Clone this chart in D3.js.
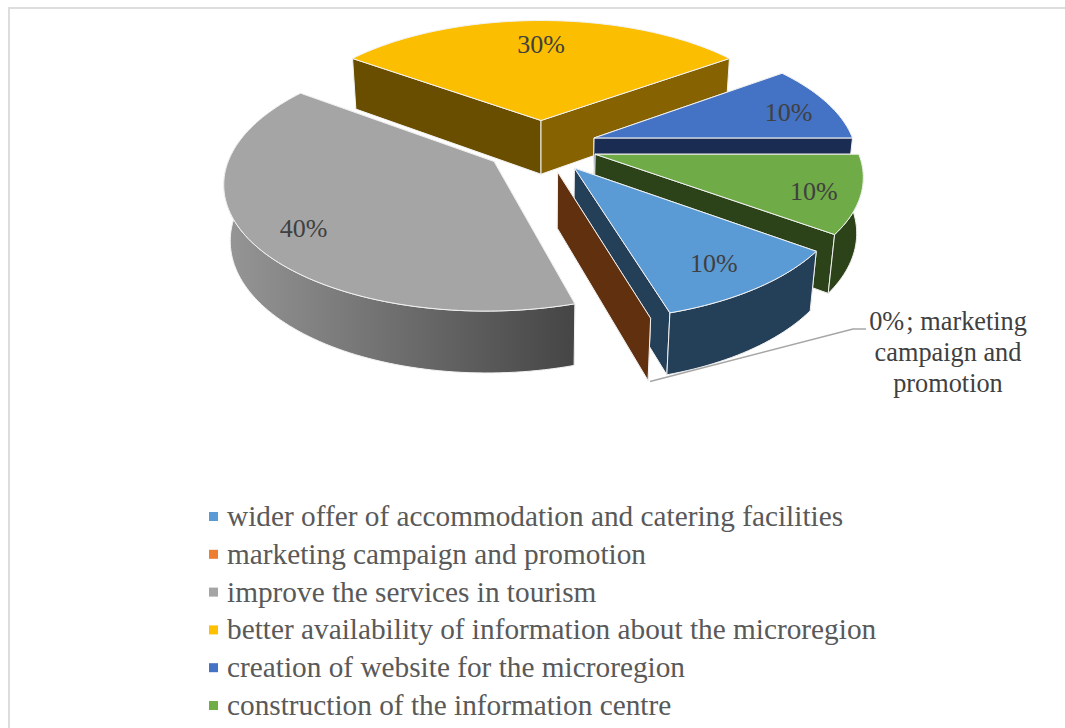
<!DOCTYPE html>
<html>
<head>
<meta charset="utf-8">
<script src="https://cdn.jsdelivr.net/npm/d3@7"></script>
<style>
html,body{margin:0;padding:0;background:#fff;overflow:hidden}
svg{display:block}
text{font-family:"Liberation Serif","Times New Roman",serif}
</style>
</head>
<body>
<div id="chart"></div>
<script>
const categories = [
  "wider offer of accommodation and catering facilities",
  "marketing campaign and promotion",
  "improve the services in tourism",
  "better availability of information about the microregion",
  "creation of website for the microregion",
  "construction of the information centre"
];
const values = [10.4, 0, 39.6, 30, 10, 10];
const topColors = ["#5B9BD5", "#ED7D31", "#A5A5A5", "#FBBE00", "#4472C4", "#6FAB46"];
const legendColors = ["#5B9BD5", "#ED7D31", "#A5A5A5", "#FFC000", "#4472C4", "#70AD47"];
const startWallColors = ["#243F58", "#61310F", "#777777", "#6A4E00", "#1A2C52", "#2C431A"];
const endWallColors = ["#243F58", "#61310F", "#777777", "#866300", "#1A2C52", "#2C431A"];
const paintOrder = [3, 4, 2, 5, 0, 1];
const calloutLines = ["0%\u200A; marketing", "campaign and", "promotion"];

const W = 1065, H = 728;
const view = {cx: 541, cy: 146, A: 261, B: 122, depth: 56, p: 0.15, q: 0.02, explode: 0.216};
const labelRadius = [0.79, 0, 0.8, 0.78, 0.83, 0.83];

const svg = d3.select("#chart").append("svg").attr("width", W).attr("height", H);

// chart-area border
svg.append("path").attr("d", `M9,${H} V8 H${W}`).attr("fill", "none")
  .attr("stroke", "#DDDDDD").attr("stroke-width", 2);

const defs = svg.append("defs");
const grad = defs.append("linearGradient").attr("id", "grayRim")
  .attr("gradientUnits", "userSpaceOnUse")
  .attr("x1", 225).attr("x2", 575).attr("y1", 0).attr("y2", 0);
grad.append("stop").attr("offset", 0).attr("stop-color", "#969696");
grad.append("stop").attr("offset", 1).attr("stop-color", "#454545");

function project(X, Y, Z) {
  const den = 1 - view.p * Y + view.q * Z;
  return [view.cx + view.A * X / den, view.cy + (view.B * Y + view.depth * Z) / den];
}

const pie = d3.pie().sort(null)
  .startAngle(126 * Math.PI / 180)
  .endAngle((126 + 360) * Math.PI / 180);
const arcs = pie(values);

function slicePoint(a, t, r, z) {
  const mid = (a.startAngle + a.endAngle) / 2;
  const ox = view.explode * Math.sin(mid), oy = -view.explode * Math.cos(mid);
  return project(ox + r * Math.sin(t), oy - r * Math.cos(t), z);
}
const line = d3.line();
const closed = pts => line(pts) + "Z";

function angleSteps(t0, t1) {
  const n = Math.max(2, Math.ceil((t1 - t0) * 40));
  return d3.range(n + 1).map(i => t0 + (t1 - t0) * i / n);
}

const edge = g => g.attr("stroke", "#F2F2F2").attr("stroke-width", 1).attr("stroke-linejoin", "round");

paintOrder.forEach(i => {
  const a = arcs[i];
  const g = svg.append("g").attr("class", "slice");
  const wall = (t, fill) => g.append("path")
    .attr("d", closed([slicePoint(a, t, 0, 0), slicePoint(a, t, 1, 0), slicePoint(a, t, 1, 1), slicePoint(a, t, 0, 1)]))
    .attr("fill", fill).call(edge);
  wall(a.startAngle, startWallColors[i]);
  wall(a.endAngle, endWallColors[i]);
  if (a.endAngle > a.startAngle) {
    // only the part of the rim that faces the viewer (angles may run past one full turn)
    [0, 2 * Math.PI].forEach(turn => {
      const t0 = Math.max(a.startAngle, Math.PI / 2 + turn);
      const t1 = Math.min(a.endAngle, 3 * Math.PI / 2 + turn);
      if (t1 > t0) {
        const ts = angleSteps(t0, t1);
        const upper = ts.map(t => slicePoint(a, t, 1, 0));
        const lower = ts.slice().reverse().map(t => slicePoint(a, t, 1, 1));
        g.append("path").attr("d", closed(upper.concat(lower)))
          .attr("fill", i === 2 ? "url(#grayRim)" : startWallColors[i]).call(edge);
      }
    });
    const rimTop = angleSteps(a.startAngle, a.endAngle).map(t => slicePoint(a, t, 1, 0));
    g.append("path")
      .attr("d", closed([slicePoint(a, a.startAngle, 0, 0)].concat(rimTop)))
      .attr("fill", topColors[i]).call(edge);
  }
});

// data labels
const fmt = d3.format(".0%");
arcs.forEach((a, i) => {
  if (a.value === 0) return;
  const mid = (a.startAngle + a.endAngle) / 2;
  const [x, y] = slicePoint(a, mid, labelRadius[i], 0);
  svg.append("text").attr("x", x).attr("y", y).attr("dy", "0.47em")
    .attr("text-anchor", "middle").attr("font-size", 26).attr("fill", "#404040")
    .text(fmt(a.value / 100));
});

// callout for the zero slice
const zero = arcs[1];
const zp = slicePoint(zero, zero.startAngle, 1, 1);
svg.append("path").attr("d", line([[zp[0] + 2, zp[1] + 1], [853, 329], [866, 329]]))
  .attr("fill", "none").attr("stroke", "#A6A6A6").attr("stroke-width", 1.5);
svg.append("g").selectAll("text").data(calloutLines).join("text")
  .attr("x", 948).attr("y", (d, i) => 330 + i * 31)
  .attr("text-anchor", "middle").attr("font-size", 26.3).attr("fill", "#404040")
  .text(d => d);

// legend
const legendY = d3.scalePoint().domain(categories).range([517, 706]);
const legend = svg.append("g").selectAll("g").data(categories).join("g")
  .attr("transform", d => `translate(0,${legendY(d)})`);
legend.append("rect").attr("x", 209).attr("y", -5).attr("width", 9).attr("height", 9)
  .attr("fill", (d, i) => legendColors[i]);
legend.append("text").attr("x", 227).attr("y", 9).attr("font-size", 29.3).attr("fill", "#595959")
  .text(d => d);
</script>
</body>
</html>
